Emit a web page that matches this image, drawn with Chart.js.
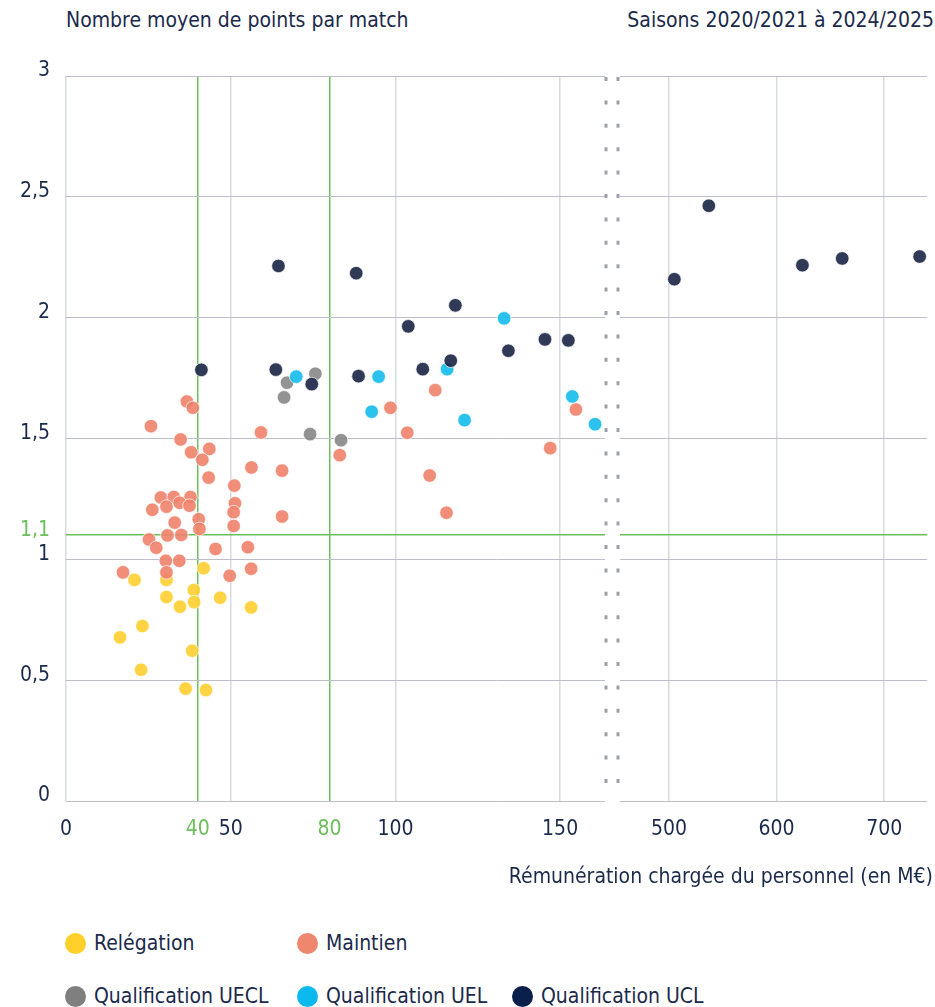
<!DOCTYPE html>
<html lang="fr">
<head>
<meta charset="utf-8">
<title>Points par match et rémunération du personnel</title>
<script src="https://cdn.jsdelivr.net/npm/chart.js@4.4.1/dist/chart.umd.min.js"></script>
<style>
  body { margin: 0; background: #fff; }
  #wrap {
    position: relative; width: 935px; height: 1007px; overflow: hidden;
    font-family: 'Liberation Sans Narrow', 'DejaVu Sans Condensed', 'Roboto', sans-serif;
    color: #1b2a4b;
  }
  #chart-box { position: absolute; left: 0; top: 0; width: 935px; height: 900px; }
  .txt { position: absolute; font-size: 21px; white-space: nowrap; line-height: 1; }
  #title-left { left: 66px; top: 10px; }
  #title-right { right: 1px; top: 10px; }
  #x-title { right: 2px; top: 866px; }
  .legend-item { position: absolute; font-size: 21px; white-space: nowrap; line-height: 1; display: flex; align-items: center; }
  .legend-item i { display: inline-block; width: 21px; height: 21px; border-radius: 50%; margin-right: 8px; }
</style>
</head>
<body>
<div id="wrap">
  <div class="txt" id="title-left">Nombre moyen de points par match</div>
  <div class="txt" id="title-right">Saisons 2020/2021 à 2024/2025</div>
  <div id="chart-box"><canvas id="scatter-chart"></canvas></div>
  <div class="txt" id="x-title">Rémunération chargée du personnel (en M€)</div>
  <div id="legend"></div>
</div>
<script>
// Series: [rémunération (M€), points moyens par match]
const relegation = [
  [41.8, 0.963], [20.8, 0.915], [30.5, 0.915], [38.8, 0.873], [30.5, 0.844],
  [46.8, 0.841], [38.9, 0.823], [34.6, 0.804], [56.2, 0.801], [23.2, 0.724],
  [16.4, 0.677], [38.3, 0.622], [22.8, 0.543], [36.3, 0.465], [42.5, 0.459]
];
const maintien = [
  [36.7, 1.653], [38.5, 1.627], [25.8, 1.551], [59.2, 1.525], [34.8, 1.496],
  [43.5, 1.457], [38.0, 1.443], [41.4, 1.412], [56.3, 1.380], [65.6, 1.367],
  [43.3, 1.338], [51.1, 1.305], [28.8, 1.256], [32.7, 1.258], [37.8, 1.258],
  [30.5, 1.218], [34.5, 1.234], [37.5, 1.222], [26.2, 1.205], [51.3, 1.232],
  [50.9, 1.195], [40.3, 1.166], [33.0, 1.152], [40.5, 1.126], [50.9, 1.138],
  [65.6, 1.177], [25.2, 1.082], [30.8, 1.099], [35.0, 1.101], [27.4, 1.048],
  [45.4, 1.043], [55.2, 1.050], [30.3, 0.994], [34.4, 0.994], [17.3, 0.946],
  [30.5, 0.946], [49.7, 0.932], [56.2, 0.961], [112.1, 1.700], [98.5, 1.627],
  [154.8, 1.620], [103.6, 1.524], [83.1, 1.431], [147.0, 1.460], [110.4, 1.347],
  [115.5, 1.193]
];
const qualifUECL = [
  [75.7, 1.768], [67.1, 1.731], [66.2, 1.670], [74.1, 1.518], [83.5, 1.493]
];
const qualifUEL = [
  [133.0, 1.997], [115.7, 1.787], [69.9, 1.756], [94.9, 1.756], [153.7, 1.674],
  [92.8, 1.611], [121.0, 1.576], [160.6, 1.559]
];
const qualifUCL = [
  [64.5, 2.214], [88.1, 2.184], [118.2, 2.051], [103.9, 1.964], [145.4, 1.910],
  [152.5, 1.906], [134.3, 1.863], [116.8, 1.822], [63.7, 1.785], [108.3, 1.787],
  [88.8, 1.758], [74.6, 1.725], [41.1, 1.784],
  [537, 2.463], [505, 2.159], [624, 2.217], [661, 2.245], [733, 2.253]
];

const X_TICKS = [0, 40, 50, 80, 100, 150, 500, 600, 700];
const X_MARKERS = [40, 80];          // seuils verticaux (vert)
const Y_TICKS = [0, 0.5, 1, 1.1, 1.5, 2, 2.5, 3];
const Y_MARKER = 1.1;                // seuil horizontal (vert)
const X_MAX = 740;

// broken x axis: 0..164 linear, then 453..740 compressed
const LEFT_MAX = 164;
const RIGHT_MIN = 453;
const RIGHT_OFFSET = 167.7;
const RIGHT_SCALE = 0.3266;

const GREEN = '#6cbf5b';
const INK = '#1b2a4b';
const FONT = "'Liberation Sans Narrow', 'DejaVu Sans Condensed', 'Roboto', sans-serif";

function toAxis(v) {
  return v <= LEFT_MAX ? v : RIGHT_OFFSET + (v - RIGHT_MIN) * RIGHT_SCALE;
}

function toPoints(series) {
  return series.map(p => ({ x: toAxis(p[0]), y: p[1], raw: p[0] }));
}

const seriesDefs = [
  { label: 'Relégation', data: relegation, color: 'rgba(255, 207, 48, 0.9)', legend: '#ffd02a', order: 5 },
  { label: 'Maintien', data: maintien, color: 'rgba(239, 130, 106, 0.9)', legend: '#ef866e', order: 4 },
  { label: 'Qualification UECL', data: qualifUECL, color: 'rgba(128, 128, 128, 0.85)', legend: '#7f7f7f', order: 3 },
  { label: 'Qualification UEL', data: qualifUEL, color: 'rgba(20, 187, 236, 0.9)', legend: '#0cb9ee', order: 2 },
  { label: 'Qualification UCL', data: qualifUCL, color: 'rgba(30, 40, 72, 0.92)', legend: '#0b1f4b', order: 1 }
];

// white gap + dotted double line at the axis break
const axisBreak = {
  id: 'axisBreak',
  beforeDatasetsDraw(chart) {
    const { ctx, chartArea, scales } = chart;
    const x1 = Math.round(scales.x.getPixelForValue(LEFT_MAX));
    const x2 = Math.round(scales.x.getPixelForValue(RIGHT_OFFSET));
    ctx.save();
    ctx.fillStyle = '#fff';
    ctx.fillRect(x1 - 1, chartArea.top - 2, x2 - x1 + 3, chartArea.bottom - chartArea.top + 4);
    ctx.strokeStyle = '#9d9faa';
    ctx.lineWidth = 3;
    ctx.setLineDash([4, 19.4]);
    [x1, x2].forEach(x => {
      ctx.beginPath();
      ctx.moveTo(x, chartArea.top + 1);
      ctx.lineTo(x, chartArea.bottom);
      ctx.stroke();
    });
    ctx.restore();
  }
};

const ctx = document.getElementById('scatter-chart').getContext('2d');
new Chart(ctx, {
  type: 'scatter',
  data: {
    datasets: seriesDefs.map(s => ({
      label: s.label,
      data: toPoints(s.data),
      order: s.order,
      backgroundColor: s.color,
      borderColor: 'rgba(255, 255, 255, 0.7)',
      borderWidth: 1,
      pointRadius: 6.8,
      pointHoverRadius: 6.8
    }))
  },
  options: {
    responsive: true,
    maintainAspectRatio: false,
    animation: false,
    layout: { padding: { top: 76, right: 5, left: 0, bottom: 0 } },
    plugins: {
      legend: { display: false },
      tooltip: {
        callbacks: {
          label: (c) => `${c.dataset.label} : ${c.raw.raw} M€, ${c.raw.y.toFixed(2).replace('.', ',')}`
        }
      }
    },
    scales: {
      x: {
        type: 'linear',
        min: 0,
        max: toAxis(X_MAX),
        border: { display: false },
        afterFit: (scale) => { scale.height = 99; },
        afterBuildTicks: (scale) => {
          scale.ticks = X_TICKS.map(v => ({ value: toAxis(v) }));
        },
        grid: {
          drawTicks: false,
          lineWidth: 1.5,
          color: (c) => (X_MARKERS.includes(X_TICKS[c.index]) ? GREEN : '#d8dae1')
        },
        ticks: {
          autoSkip: false,
          maxRotation: 0,
          padding: 16,
          font: { family: FONT, size: 21 },
          color: (c) => (X_MARKERS.includes(X_TICKS[c.index]) ? GREEN : INK),
          callback: (value, i) => String(X_TICKS[i])
        }
      },
      y: {
        type: 'linear',
        min: 0,
        max: 3,
        border: { display: false },
        afterFit: (scale) => { scale.width = 66; },
        afterBuildTicks: (scale) => {
          scale.ticks = Y_TICKS.map(v => ({ value: v }));
        },
        grid: {
          drawTicks: false,
          lineWidth: (c) => (Y_TICKS[c.index] === Y_MARKER ? 1.5 : 1),
          color: (c) => (Y_TICKS[c.index] === Y_MARKER ? GREEN : '#bcbfc9')
        },
        ticks: {
          autoSkip: false,
          padding: 16,
          labelOffset: -5,
          font: { family: FONT, size: 21 },
          color: (c) => (Y_TICKS[c.index] === Y_MARKER ? GREEN : INK),
          callback: (value, i) => String(Y_TICKS[i]).replace('.', ',')
        }
      }
    }
  },
  plugins: [axisBreak]
});

// HTML legend, two rows as in the original layout
const legendSlots = [
  { left: 65, top: 933 }, { left: 297, top: 933 },
  { left: 65, top: 986 }, { left: 297, top: 986 }, { left: 512, top: 986 }
];
const legendEl = document.getElementById('legend');
seriesDefs.forEach((s, i) => {
  const item = document.createElement('div');
  item.className = 'legend-item';
  item.style.left = legendSlots[i].left + 'px';
  item.style.top = legendSlots[i].top + 'px';
  item.innerHTML = `<i style="background:${s.legend}"></i>${s.label}`;
  legendEl.appendChild(item);
});
</script>
</body>
</html>
